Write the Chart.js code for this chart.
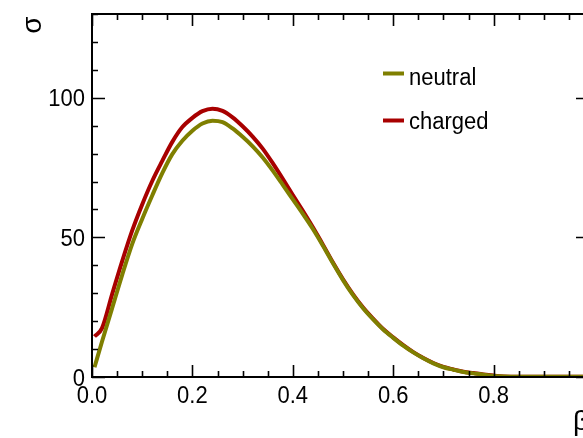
<!DOCTYPE html>
<html>
<head>
<meta charset="utf-8">
<script src="https://cdn.jsdelivr.net/npm/chart.js@4"></script>
<style>
html,body{margin:0;padding:0;background:#fff;overflow:hidden;}
#wrap{width:583px;height:438px;overflow:hidden;position:relative;}
canvas{display:block;}
</style>
</head>
<body>
<div id="wrap"><canvas id="c" width="600" height="438"></canvas></div>
<script>
// ---- data ----
const betaValues = [0.005, 0.02, 0.04, 0.06, 0.08, 0.10, 0.12, 0.14, 0.16, 0.18, 0.20, 0.22, 0.24, 0.26, 0.28, 0.30, 0.32, 0.34, 0.36, 0.38, 0.40, 0.42, 0.44, 0.46, 0.48, 0.50, 0.52, 0.54, 0.56, 0.58, 0.60, 0.62, 0.64, 0.66, 0.68, 0.70, 0.72, 0.74, 0.76, 0.78, 0.80, 0.82, 0.85, 0.90, 0.95, 0.99];
const chargedValues = [14.5, 17.5, 29.6, 41.4, 52.4, 61.8, 70.2, 77.4, 84.2, 89.5, 92.8, 95.2, 96.1, 95.3, 93.0, 89.8, 86.1, 81.8, 76.6, 71.0, 65.2, 59.5, 53.6, 47.4, 41.0, 35.0, 29.6, 24.9, 20.9, 17.2, 14.2, 11.4, 8.9, 6.8, 5.0, 3.6, 2.7, 1.9, 1.4, 0.9, 0.5, 0.2, 0.1, 0.1, 0.1, 0.1];
const neutralValues = [3.5, 12.7, 24.6, 36.5, 47.6, 56.6, 65.0, 73.0, 79.8, 84.6, 88.2, 90.8, 91.8, 91.3, 89.0, 86.0, 82.6, 78.6, 73.9, 68.8, 63.6, 58.4, 53.0, 47.0, 40.7, 34.7, 29.3, 24.6, 20.6, 17.0, 14.0, 11.2, 8.8, 6.7, 4.9, 3.5, 2.6, 1.8, 1.3, 0.8, 0.4, 0.2, 0.1, 0.1, 0.1, 0.1];
const seriesNames = ['neutral', 'charged'];
const xMajorTicks = [0.0, 0.2, 0.4, 0.6, 0.8];
const xTickLabels = ['0.0', '0.2', '0.4', '0.6', '0.8'];
const xMinorTicks = [0.05, 0.10, 0.15, 0.25, 0.30, 0.35, 0.45, 0.50, 0.55, 0.65, 0.70, 0.75, 0.85, 0.90, 0.95];
const yMajorTicks = [0, 50, 100];
const yTickLabels = ['0', '50', '100'];
const yMinorTicks = [10, 20, 30, 40, 60, 70, 80, 90, 110, 120, 130];
const xTitle = 'β';
const yTitle = 'σ';

const colors = {neutral: '#7f7f00', charged: '#a80000'};

const toPts = vals => betaValues.map((b, i) => ({x: b, y: vals[i]}));

function stretchedText(ctx, txt, x, y, sy) {
  ctx.save();
  ctx.translate(x, y);
  ctx.scale(1, sy);
  ctx.fillText(txt, 0, 0);
  ctx.restore();
}

const rootAxes = {
  id: 'rootAxes',
  afterDatasetsDraw(chart) {
    const ctx = chart.ctx;
    const xs = chart.scales.x, ys = chart.scales.y;
    const a = chart.chartArea;
    ctx.save();
    ctx.strokeStyle = '#000';
    ctx.lineWidth = 2;
    ctx.beginPath();
    ctx.rect(a.left, a.top, a.right - a.left, a.bottom - a.top);
    ctx.stroke();
    ctx.lineWidth = 1.6;
    ctx.beginPath();
    const tickX = (v, len) => {
      const p = Math.round(xs.getPixelForValue(v)) + 0.5;
      ctx.moveTo(p, a.bottom); ctx.lineTo(p, a.bottom - len);
      ctx.moveTo(p, a.top); ctx.lineTo(p, a.top + len);
    };
    const tickY = (v, len) => {
      const p = Math.round(ys.getPixelForValue(v)) + 0.5;
      ctx.moveTo(a.left, p); ctx.lineTo(a.left + len, p);
      ctx.moveTo(a.right, p); ctx.lineTo(a.right - len, p);
    };
    xMajorTicks.forEach(v => tickX(v, 12));
    xMinorTicks.forEach(v => tickX(v, 6));
    yMajorTicks.forEach(v => tickY(v, 13));
    yMinorTicks.forEach(v => tickY(v, 6));
    ctx.stroke();

    ctx.fillStyle = '#000';
    ctx.font = '22px "Liberation Sans", Arial, sans-serif';
    ctx.textBaseline = 'alphabetic';
    ctx.textAlign = 'center';
    xMajorTicks.forEach((v, i) => {
      stretchedText(ctx, xTickLabels[i], xs.getPixelForValue(v), a.bottom + 25.5, 1.05);
    });
    ctx.textAlign = 'right';
    yMajorTicks.forEach((v, i) => {
      stretchedText(ctx, yTickLabels[i], a.left - 7, ys.getPixelForValue(v) + 8.5, 1.05);
    });

    // legend
    const legY = [73.5, 120.5];
    const legBase = [84.5, 129];
    chart.data.datasets.forEach((ds, i) => {
      ctx.strokeStyle = ds.borderColor;
      ctx.lineWidth = 4;
      ctx.beginPath();
      ctx.moveTo(383, legY[i]); ctx.lineTo(404, legY[i]);
      ctx.stroke();
      ctx.fillStyle = '#000';
      ctx.textAlign = 'left';
      ctx.font = '22px "Liberation Sans", Arial, sans-serif';
      stretchedText(ctx, ds.label, 409, legBase[i], 1.05);
    });

    // titles
    ctx.fillStyle = '#000';
    ctx.font = '28px "Liberation Sans", Arial, sans-serif';
    ctx.textAlign = 'right';
    ctx.fillText(xTitle, a.right, 430);
    ctx.save();
    ctx.translate(41, 25);
    ctx.rotate(-Math.PI / 2);
    ctx.textAlign = 'center';
    ctx.textBaseline = 'alphabetic';
    ctx.fillText(yTitle, 0, 0);
    ctx.restore();
    ctx.restore();
  }
};

new Chart(document.getElementById('c'), {
  type: 'line',
  data: {
    datasets: [
      {label: seriesNames[0], data: toPts(neutralValues), borderColor: colors.neutral, borderWidth: 4, pointRadius: 0, cubicInterpolationMode: 'monotone', fill: false},
      {label: seriesNames[1], data: toPts(chargedValues), borderColor: colors.charged, borderWidth: 4, pointRadius: 0, cubicInterpolationMode: 'monotone', fill: false}
    ]
  },
  options: {
    responsive: false,
    animation: false,
    devicePixelRatio: 1,
    layout: {padding: {left: 92, top: 14, right: 11, bottom: 61}},
    plugins: {legend: {display: false}, tooltip: {enabled: false}},
    scales: {
      x: {type: 'linear', min: 0, max: 0.99, display: false},
      y: {type: 'linear', min: 0, max: 130, display: false}
    }
  },
  plugins: [rootAxes]
});
</script>
</body>
</html>
